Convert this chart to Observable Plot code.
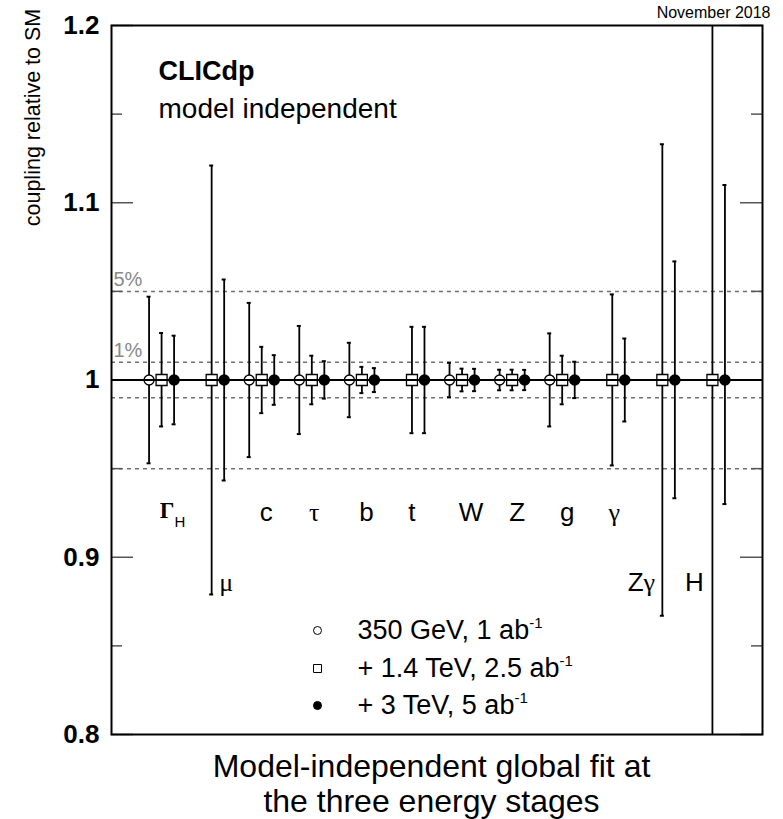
<!DOCTYPE html>
<html><head><meta charset="utf-8">
<script src="https://cdn.jsdelivr.net/npm/d3@7"></script>
<script src="https://cdn.jsdelivr.net/npm/@observablehq/plot@0.6"></script>
<style>
html,body{margin:0;padding:0;background:#fff;overflow:hidden}
body{font-family:"Liberation Sans",Arial,Helvetica,sans-serif;color:#000}
#chart svg{display:block}
#cap{width:703px;padding-left:80px;text-align:center;font-size:32px;line-height:35px;margin-top:4px}
</style></head><body>
<div id="chart"></div>
<div id="cap">Model-independent global fit at<br>the three energy stages</div>
<script>
// ---------- data ----------
const couplings = ["Γ_H", "μ", "c", "τ", "b", "t", "W", "Z", "g", "γ", "Zγ", "H"];
const lowLabel  = [false, true, false, false, false, false, false, false, false, false, true, true];
// relative uncertainties (fraction), up / down, per stage; null = not measured at that stage
const err350Up    = [0.047, null, 0.0435, 0.0305, 0.021, null, 0.0097, 0.0058, 0.0263, null, null, null];
const err350Down  = [0.047, null, 0.0435, 0.0305, 0.021, null, 0.0097, 0.0058, 0.0262, null, null, null];
const err1400Up   = [0.0265, 0.121, 0.0187, 0.0137, 0.0074, 0.030, 0.0064, 0.0058, 0.0137, 0.0483, 0.133, 0.25];
const err1400Down = [0.0262, 0.121, 0.0187, 0.0137, 0.0074, 0.030, 0.0064, 0.0058, 0.0137, 0.0482, 0.133, 0.25];
const err3000Up   = [0.025, 0.0567, 0.014, 0.0106, 0.0067, 0.030, 0.0063, 0.0057, 0.0103, 0.0234, 0.0669, 0.110];
const err3000Down = [0.025, 0.0567, 0.014, 0.0105, 0.0068, 0.030, 0.0063, 0.0057, 0.0102, 0.0234, 0.0667, 0.070];
const legendLabels = ["350 GeV, 1 ab^-1", "+ 1.4 TeV, 2.5 ab^-1", "+ 3 TeV, 5 ab^-1"];
const bandValues = [1.05, 1.01, 0.99, 0.95];
const bandLabels = ["5%", "1%"];
const majorTicks = [0.8, 0.9, 1.0, 1.1, 1.2];
const majorTickLabels = ["0.8", "0.9", "1", "1.1", "1.2"];
const minorTicks = [0.85, 0.95, 1.05, 1.15];
const yTitle = "coupling relative to SM";

// ---------- layout ----------
const W = 783, H = 745, ML = 111, MR = 21, MT = 25, MB = 11;
const XMAX = 13;
const PX = XMAX / (W - ML - MR); // data units per pixel on x
const stageStyle = [
  {symbol: "circle", shift: -0.25, r: 5,   fill: "white", up: err350Up,  down: err350Down,  lr: 4},
  {symbol: "square", shift: 0,     r: 6.2, fill: "white", up: err1400Up, down: err1400Down, lr: 4.5},
  {symbol: "circle", shift: 0.25,  r: 5,   fill: "black", up: err3000Up, down: err3000Down, lr: 4}
];
const labelShift = [0.22, 0.29, 0.09, 0.05, 0.09, 0.0, 0.18, 0.1, 0.1, 0.04, -0.42, -0.36];

const rows = [];
stageStyle.forEach((s, k) => couplings.forEach((c, i) => {
  if (s.up[i] == null) return;
  rows.push({stage: k, x: i + 1 + s.shift, value: 1, lo: 1 - s.down[i], hi: 1 + s.up[i]});
}));
const labelRows = couplings.map((c, i) => ({text: c, x: i + 1 + labelShift[i], y: lowLabel[i] ? 0.8854 : 0.9249}));

const sans = '"Liberation Sans", Arial, Helvetica, sans-serif';
const serif = '"Liberation Serif", "Times New Roman", "DejaVu Serif", serif';
const fa = (anchor, dx, dy, extra) => ({text: d => d, frameAnchor: anchor, dx, dy, lineAnchor: "middle", ...extra});

const marks = [
  Plot.ruleY(bandValues, {y: d => d, stroke: "#707070", strokeWidth: 1.5, strokeDasharray: "4,4"}),
  Plot.text(bandValues.slice(0, 2), {y: d => d, frameAnchor: "left", text: (d, i) => bandLabels[i],
    textAnchor: "start", lineAnchor: "middle", dx: 2, dy: -12, fill: "#888", fontSize: 20}),
  Plot.ruleY(majorTicks, {y: d => d, x1: 0, x2: 22 * PX, stroke: "#555", strokeWidth: 1.5}),
  Plot.ruleY(minorTicks, {y: d => d, x1: 0, x2: 11 * PX, stroke: "#555", strokeWidth: 1.5}),
  Plot.ruleY(majorTicks, {y: d => d, x1: XMAX - 22 * PX, x2: XMAX, stroke: "#555", strokeWidth: 1.5}),
  Plot.ruleY(minorTicks, {y: d => d, x1: XMAX - 11 * PX, x2: XMAX, stroke: "#555", strokeWidth: 1.5}),
  Plot.ruleX(rows, {x: "x", y1: "lo", y2: "hi", stroke: "black", strokeWidth: 1.8, clip: true}),
  Plot.ruleY(rows, {y: "hi", x1: d => d.x - 2 * PX, x2: d => d.x + 2 * PX, stroke: "black", strokeWidth: 2, clip: true}),
  Plot.ruleY(rows, {y: "lo", x1: d => d.x - 2 * PX, x2: d => d.x + 2 * PX, stroke: "black", strokeWidth: 2, clip: true}),
  ...[0, 1].map(k => Plot.dot(rows.filter(d => d.stage === k), {x: "x", y: "value", symbol: stageStyle[k].symbol,
    r: stageStyle[k].r, fill: "white", stroke: "black", strokeWidth: 1.3})),
  Plot.ruleY([1], {stroke: "black", strokeWidth: 2}),
  Plot.dot(rows.filter(d => d.stage === 2), {x: "x", y: "value", symbol: "circle", r: stageStyle[2].r, fill: "black", stroke: "black"}),
  Plot.text(labelRows, {x: "x", y: "y", text: "text", fontSize: 26, lineAnchor: "middle"}),
  Plot.text(["CLICdp"], fa("top-left", 47, 46, {textAnchor: "start", fontSize: 27, fontWeight: "bold"})),
  Plot.text(["model independent"], fa("top-left", 47, 84, {textAnchor: "start", fontSize: 28})),
  Plot.text(["November 2018"], fa("top-right", 8, -13, {textAnchor: "end", fontSize: 16})),
  Plot.text([yTitle], fa("top-left", -78, 92, {textAnchor: "middle", rotate: -90, fontSize: 21.5})),
  ...legendLabels.flatMap((lab, i) => {
    const dy = [-104, -66, -29][i];
    const s = stageStyle[i];
    return [
      Plot.dot([lab], {frameAnchor: "bottom-left", dx: 206, dy, symbol: s.symbol, r: s.lr,
        fill: s.fill, stroke: "black", strokeWidth: 1}),
      Plot.text([lab], fa("bottom-left", 246, dy, {textAnchor: "start", fontSize: 27}))
    ];
  }),
  Plot.frame({stroke: "black", strokeWidth: 2}),
  Plot.axisY(majorTicks, {tickSize: 0, tickPadding: 12, label: null,
    tickFormat: d => majorTickLabels[majorTicks.indexOf(d)], fontSize: 26, fontWeight: "bold"})
];

const chart = Plot.plot({
  width: W, height: H,
  marginLeft: ML, marginRight: MR, marginTop: MT, marginBottom: MB,
  x: {domain: [0, XMAX], axis: null},
  y: {domain: [0.8, 1.2], axis: null},
  style: {fontFamily: sans, fontSize: "26px", background: "white", color: "black", overflow: "visible"},
  marks
});

// rich text: Greek letters in serif, subscripts / superscripts
d3.select(chart).selectAll("text").each(function () {
  if (this.querySelector("tspan")) return;
  const t = this.textContent;
  const el = d3.select(this);
  if (t.includes("^")) {
    const [main, sup] = t.split("^");
    el.text(null);
    el.append("tspan").text(main);
    el.append("tspan").text(sup).attr("font-size", 15).attr("dy", -11);
  } else if (labelRows.some(r => r.text === t)) {
    el.text(null);
    const [main, sub] = t.split("_");
    for (const ch of main) {
      const ts = el.append("tspan").text(ch);
      if (/[\u0370-\u03ff]/.test(ch)) {
        ts.attr("font-family", serif);
        if (ch === "Γ") ts.attr("font-size", 23).attr("font-weight", "bold").attr("dy", -3);
      }
    }
    if (sub) el.append("tspan").text(sub).attr("font-size", 15).attr("dy", 9);
  }
});

document.getElementById("chart").appendChild(chart);
</script></body></html>
